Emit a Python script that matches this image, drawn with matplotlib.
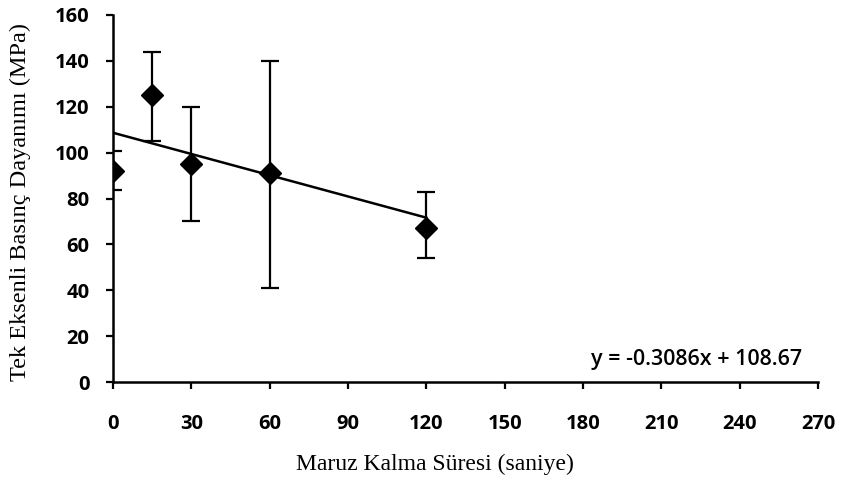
import numpy as np
import matplotlib
matplotlib.use('Agg')
import matplotlib.pyplot as plt

# Veriler
sure = [0, 15, 30, 60, 120]
dayanim = [92, 125, 95, 91, 67]
hata_alt = [8.5, 20, 25, 50, 13]
hata_ust = [8.5, 19, 25, 49, 16]

# Doğrusal eğilim: y = -0.3086x + 108.67
egim = -0.3086
kesisim = 108.67
trend_x = [0, 120]

x_ticks = [0, 30, 60, 90, 120, 150, 180, 210, 240, 270]
y_ticks = [0, 20, 40, 60, 80, 100, 120, 140, 160]

W, H = 842, 491
fig = plt.figure(figsize=(W / 100, H / 100), dpi=100)
ax = fig.add_axes([113 / W, 1 - 382 / H, (818 - 113) / W, (382 - 15) / H])

tick_font = dict(family='Open Sans', weight='bold', size=14.5)

ax.errorbar(sure, dayanim, yerr=[hata_alt, hata_ust], fmt='none',
            ecolor='black', elinewidth=1.6, capsize=6.5, capthick=1.6, zorder=2)
ax.plot(sure, dayanim, linestyle='none', marker='D', markersize=11,
        color='black', zorder=3)
ax.plot(trend_x, [kesisim + egim * v for v in trend_x], color='black',
        linewidth=1.8, zorder=2)

ax.set_xlim(0, 270)
ax.set_ylim(0, 160)
ax.set_xticks(x_ticks)
ax.set_yticks(y_ticks)
ax.set_xticklabels([str(v) for v in x_ticks], fontdict=tick_font)
ax.set_yticklabels([str(v) for v in y_ticks], fontdict=tick_font)
ax.tick_params(axis='both', direction='out', length=5, width=1.6, colors='black')
ax.tick_params(axis='x', pad=18)
ax.tick_params(axis='y', pad=12)

for side in ['top', 'right']:
    ax.spines[side].set_visible(False)
for side in ['left', 'bottom']:
    ax.spines[side].set_linewidth(1.8)

ax.set_ylabel('Tek Eksenli Basınç Dayanımı (MPa)', family='Liberation Serif',
              fontsize=17.5)
ax.yaxis.set_label_coords(-(113 - 31) / (818 - 113), 0.49)
ax.set_xlabel('Maruz Kalma Süresi (saniye)', family='Liberation Serif',
              fontsize=17)
ax.xaxis.set_label_coords((435 - 113) / (818 - 113), -(454 - 382) / (382 - 15))

ax.text((802 - 113) / (818 - 113), (382 - 360) / (382 - 15),
        'y = -0.3086x + 108.67', transform=ax.transAxes,
        ha='right', va='center', family='Open Sans', weight='semibold',
        fontsize=15.5)

fig.savefig('out.png', dpi=100)
